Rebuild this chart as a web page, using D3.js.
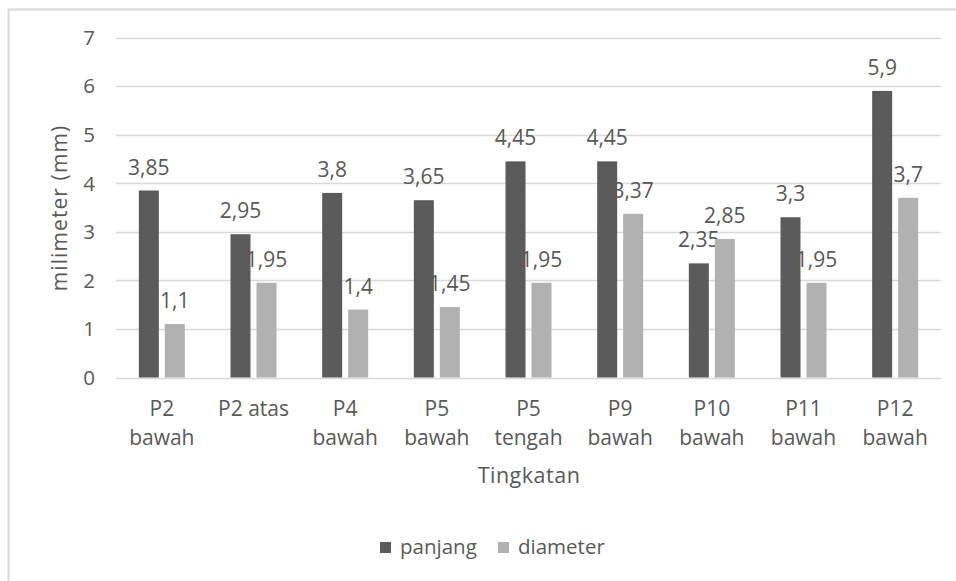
<!DOCTYPE html>
<html>
<head>
<meta charset="utf-8" />
<script src="https://d3js.org/d3.v7.min.js"></script>
<style>
  body { margin: 0; background: #fff; }
  text { font-family: "Open Sans", sans-serif; fill: #595959; }
</style>
</head>
<body>
<div id="chart"></div>
<script>
// data
var categories = [["P2", "bawah"], ["P2 atas"], ["P4", "bawah"], ["P5", "bawah"], ["P5", "tengah"],
                  ["P9", "bawah"], ["P10", "bawah"], ["P11", "bawah"], ["P12", "bawah"]];
var panjang  = [3.85, 2.95, 3.8, 3.65, 4.45, 4.45, 2.35, 3.3, 5.9];
var diameter = [1.1, 1.95, 1.4, 1.45, 1.95, 3.37, 2.85, 1.95, 3.7];
var seriesNames = ["panjang", "diameter"];
var yTicks = [0, 1, 2, 3, 4, 5, 6, 7];

var W = 956, H = 581;
var colors = ["#5b5b5b", "#b1b1b1"];

var svg = d3.select("#chart").append("svg")
  .attr("width", W).attr("height", H);

// outer frame (right/bottom edges fall outside the picture)
svg.append("rect")
  .attr("x", 8.5).attr("y", 9.5)
  .attr("width", 1000).attr("height", 1000)
  .attr("fill", "#fff").attr("stroke", "#d9d9d9").attr("stroke-width", 2);

var x = d3.scaleBand()
  .domain(d3.range(categories.length))
  .range([116, 941]);

var y = d3.scaleLinear()
  .domain([0, 7])
  .range([377.5, 37.5]);

// gridlines
svg.append("g").selectAll("line")
  .data(yTicks)
  .enter().append("line")
    .attr("x1", 116).attr("x2", 941)
    .attr("y1", function(d) { return Math.round(y(d)) + 0.5; })
    .attr("y2", function(d) { return Math.round(y(d)) + 0.5; })
    .attr("stroke", "#d9d9d9").attr("stroke-width", 1.3);

// y tick labels
svg.append("g").selectAll("text")
  .data(yTicks)
  .enter().append("text")
    .attr("x", 95)
    .attr("y", function(d) { return y(d); })
    .attr("dy", "0.36em")
    .attr("text-anchor", "end")
    .style("font-size", "20.5px")
    .text(function(d) { return d; });

// bars
var series = [panjang, diameter];
var barW = 20, offs = [-13, 13];
var fmt = function(v) { return String(v).replace(".", ","); };

series.forEach(function(vals, s) {
  var g = svg.append("g");
  g.selectAll("rect")
    .data(vals)
    .enter().append("rect")
      .attr("x", function(d, i) { return x(i) + x.bandwidth() / 2 + offs[s] - barW / 2; })
      .attr("y", function(d) { return y(d); })
      .attr("width", barW)
      .attr("height", function(d) { return y(0) - y(d); })
      .attr("fill", colors[s]);
  g.selectAll("text")
    .data(vals)
    .enter().append("text")
      .attr("x", function(d, i) { return x(i) + x.bandwidth() / 2 + offs[s]; })
      .attr("y", function(d) { return y(d) - 16; })
      .attr("text-anchor", "middle")
      .style("font-size", "21px")
      .text(function(d) { return fmt(d); });
});

// category labels
var cat = svg.append("g").selectAll("text")
  .data(categories)
  .enter().append("text")
    .attr("x", function(d, i) { return x(i) + x.bandwidth() / 2; })
    .attr("y", 416)
    .attr("text-anchor", "middle")
    .style("font-size", "21px");
cat.selectAll("tspan")
  .data(function(d) { return d; })
  .enter().append("tspan")
    .attr("x", function() { return d3.select(this.parentNode).attr("x"); })
    .attr("dy", function(d, i) { return i == 0 ? 0 : 29; })
    .text(function(d) { return d; });

// axis titles
svg.append("text")
  .attr("x", 529).attr("y", 483)
  .attr("text-anchor", "middle")
  .style("font-size", "21.5px")
  .style("letter-spacing", "0.5px")
  .text("Tingkatan");

svg.append("text")
  .attr("transform", "translate(67,208) rotate(-90)")
  .attr("text-anchor", "middle")
  .style("font-size", "21px")
  .style("letter-spacing", "1.1px")
  .text("milimeter (mm)");

// legend
var legX = [380, 498];
var leg = svg.append("g").selectAll("g")
  .data(seriesNames)
  .enter().append("g")
    .attr("transform", function(d, i) { return "translate(" + legX[i] + ",542)"; });
leg.append("rect")
  .attr("width", 11).attr("height", 11)
  .attr("fill", function(d, i) { return colors[i]; });
leg.append("text")
  .attr("x", 20).attr("y", 12)
  .style("font-size", "20.5px")
  .text(function(d) { return d; });
</script>
</body>
</html>
